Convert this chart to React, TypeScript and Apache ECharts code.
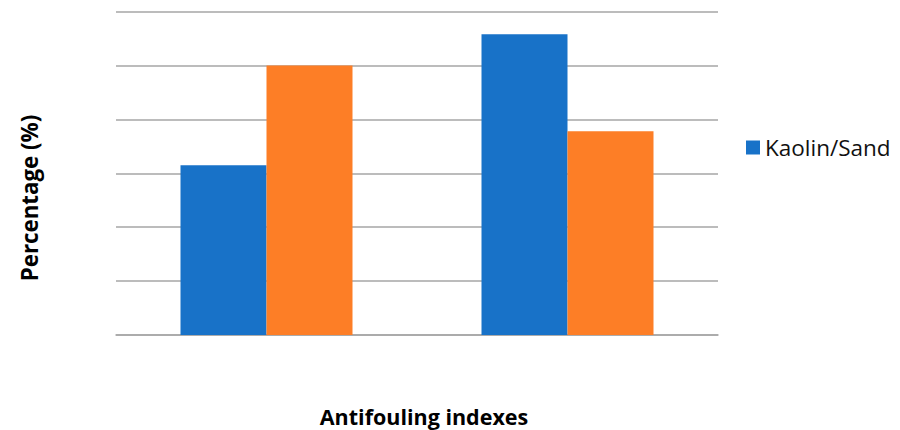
import React, { useEffect, useRef } from "react";
import * as echarts from "echarts";

const categories = ["Index 1", "Index 2"];
const kaolinSand = [31.5, 55.8];
const secondSeries = [50, 37.8];
const yTicks = { min: 0, max: 60, interval: 10 };

export default function App() {
  const ref = useRef<HTMLDivElement>(null);
  useEffect(() => {
    const chart = echarts.init(ref.current!, undefined, { renderer: "svg" });
    chart.setOption({
      animation: false,
      backgroundColor: "#ffffff",
      grid: { left: 116, right: 182, top: 11.5, bottom: 95, containLabel: false },
      legend: {
        data: ["Kaolin/Sand"],
        left: 741,
        top: 131,
        itemWidth: 14,
        itemHeight: 14,
        itemGap: 7,
        icon: "rect",
        textStyle: { fontFamily: "Open Sans", fontSize: 22.5, color: "#111" },
      },
      xAxis: {
        type: "category",
        data: categories,
        axisLine: { show: true, lineStyle: { color: "#a6a6a6", width: 1.5 } },
        axisTick: { show: false },
        axisLabel: { show: false },
      },
      yAxis: {
        type: "value",
        min: yTicks.min,
        max: yTicks.max,
        interval: yTicks.interval,
        axisLine: { show: false },
        axisTick: { show: false },
        axisLabel: { show: false },
        splitLine: { lineStyle: { color: "#a6a6a6", width: 1.5 } },
      },
      series: [
        {
          name: "Kaolin/Sand",
          type: "bar",
          data: kaolinSand,
          barWidth: 86,
          barGap: "0%",
          itemStyle: { color: "#1872c8" },
        },
        {
          name: "",
          type: "bar",
          data: secondSeries,
          barWidth: 86,
          barGap: "0%",
          itemStyle: { color: "#fd7e26" },
        },
      ],
      graphic: [
        {
          type: "text",
          x: 424,
          y: 416,
          style: {
            text: "Antifouling indexes",
            font: "bold 21.5px 'Open Sans'",
            fill: "#000",
            align: "center",
            verticalAlign: "middle",
          },
        },
        {
          type: "text",
          x: 29,
          y: 198,
          rotation: Math.PI / 2,
          style: {
            text: "Percentage (%)",
            font: "bold 22.3px 'Open Sans'",
            fill: "#000",
            align: "center",
            verticalAlign: "middle",
          },
        },
      ],
    });
    return () => chart.dispose();
  }, []);
  return <div ref={ref} style={{ width: 900, height: 430, position: "absolute", left: 0, top: 0 }} />;
}
